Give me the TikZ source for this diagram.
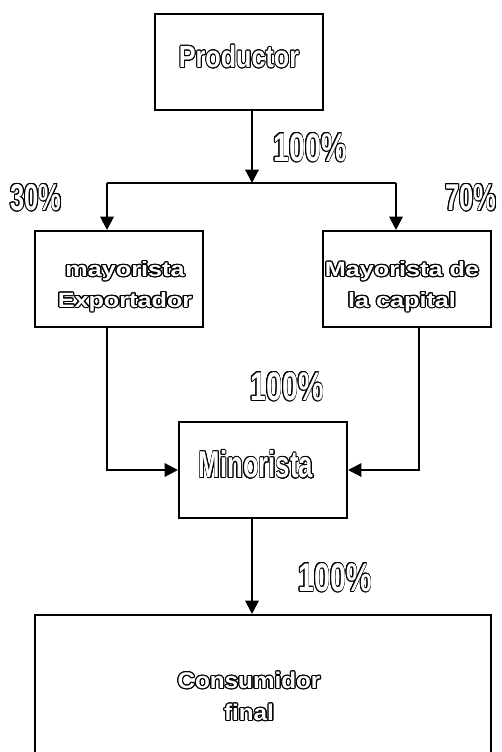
\documentclass[tikz,border=0pt]{standalone}
\usepackage{xcolor}
\usepackage{fontspec}
\setmainfont{Liberation Sans}
\usepackage{contour}
\usepackage{tikz}
\usetikzlibrary{positioning,calc}
\usetikzlibrary{arrows.meta}
\contourlength{0.8pt}
\newcommand{\hollow}[1]{\contour{black}{\textcolor{white}{#1}}}

\begin{document}
\begin{tikzpicture}[x=0.75pt,y=-0.75pt,minimum height=72pt,minimum width=126pt,line width=1.5pt,
	box/.style={rectangle,draw=black,inner sep=0pt},
	arr/.style={-{Triangle[length=10pt,width=10pt]}},
	narrow/.style={font=\bfseries\fontsize{23}{26}\selectfont,xscale=0.82,minimum width=0pt,minimum height=0pt},
	pct/.style={font=\bfseries\fontsize{30}{32}\selectfont,xscale=0.72,minimum width=0pt,minimum height=0pt,inner sep=0pt},
	wide/.style={font=\bfseries\fontsize{15.5}{23}\selectfont,align=center}]
	\useasboundingbox (0,0) rectangle (501,752);
	
	\node[box] (productor) at(239,62) {};
	\node[narrow] (productorlabel) at(239,57) {\hollow{Productor}};
	\node[box] (exportador) at(119,279) {};
	\node[wide,xscale=1.22] (exportadorlabel) at(125,287) {\hollow{mayorista}\\\hollow{Exportador}};
	\node[box] (capital) at(407,279) {};
	\node[wide,xscale=1.22] (capitallabel) at(402,287) {\hollow{Mayorista de}\\\hollow{la capital}};
	\node[box] (minorista) at(263,470) {};
	\node[narrow,font=\bfseries\fontsize{28}{30}\selectfont,xscale=0.84] (minoristalabel) at(256,465) {\hollow{Minorista}};
	\node[box,minimum width=342pt,minimum height=120pt] (consumidor) at(263,695) {};
	\node[wide,font=\bfseries\fontsize{17}{24}\selectfont,xscale=1.07] (consumidorlabel) at(249,697) {\hollow{Consumidor}\\\hollow{final}};
	
	\node[pct] (pcttop) at(310,148) {\hollow{100\%}};
	\node[pct,font=\bfseries\fontsize{28}{30}\selectfont,xscale=0.95] (pctleft) at(36,198) {\hollow{30\%}};
	\node[pct,font=\bfseries\fontsize{28}{30}\selectfont,xscale=0.95] (pctright) at(471,198) {\hollow{70\%}};
	\node[pct] (pctmid) at(287,387) {\hollow{100\%}};
	\node[pct] (pctlow) at(335,578) {\hollow{100\%}};
	
	\coordinate (split) at(252,183);
	\coordinate (splitL) at(107,183);
	\coordinate (splitR) at(396,183);
	\coordinate (joinL) at(107,470);
	\coordinate (joinR) at(419,470);
	
	\draw [arr] (productor.south -| split) -- (split);
	\draw (splitL) -- (splitR);
	\draw [arr] (splitL) -- (splitL |- exportador.north);
	\draw [arr] (splitR) -- (splitR |- capital.north);
	
	\draw [arr] (joinL |- exportador.south) -- (joinL) -- (minorista.west);
	\draw [arr] (joinR |- capital.south) -- (joinR) -- (minorista.east);
	
	\draw [arr] (split |- minorista.south) -- (split |- consumidor.north);
\end{tikzpicture}
\end{document}
